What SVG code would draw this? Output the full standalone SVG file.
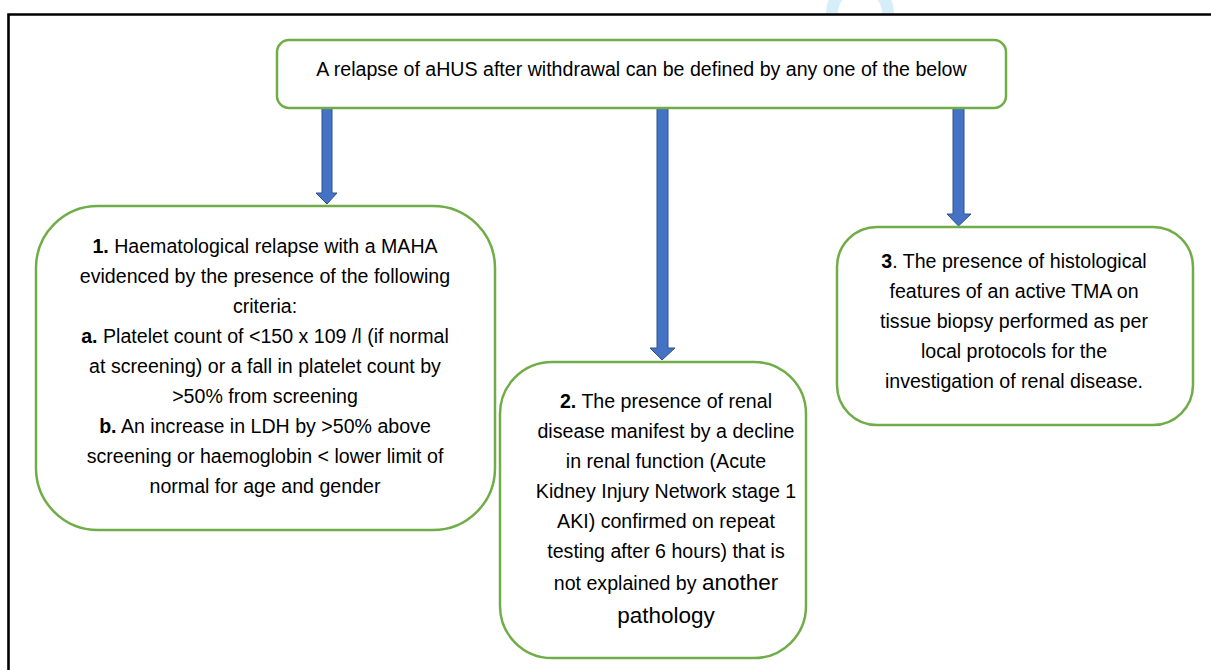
<svg xmlns="http://www.w3.org/2000/svg" width="1211" height="670" viewBox="0 0 1211 670">
<style>
.box{fill:#ffffff;stroke:#70AD47;stroke-width:2.5}
.t{font-family:"Liberation Sans",Arial,sans-serif;font-size:19.6px;fill:#000;text-anchor:middle}
.b{font-weight:bold}
.big{font-size:22.5px}
.arr{fill:#4472C4;stroke:#2F528F;stroke-width:1}
</style>
<rect width="1211" height="670" fill="#ffffff"/>
<path d="M826 13 A34 34 0 0 1 894 13 L882 13 A22 22 0 0 0 838 13 Z" fill="#d6eefa"/>
<path d="M8.5 670 V14.5 H1211" fill="none" stroke="#000" stroke-width="2.6"/>
<g id="connectors">
<path class="arr" d="M322 108 H332 V193 H337 L327 204 L316 193 H322 Z"/>
<path class="arr" d="M657 108 H668 V348 H675 L662 360 L650 348 H657 Z"/>
<path class="arr" d="M953 108 H964 V214 H971 L958.5 226 L947 214 H953 Z"/>
</g>
<g id="top">
<rect class="box" x="277" y="40" width="729" height="68" rx="12"/>
<text class="t" x="641.5" y="76">A relapse of aHUS after withdrawal can be defined by any one of the below</text>
</g>
<g id="node1">
<rect class="box" x="36" y="206" width="459" height="324" rx="62"/>
<text class="t" x="265" y="253"><tspan class="b">1.</tspan> Haematological relapse with a MAHA</text>
<text class="t" x="265" y="283">evidenced by the presence of the following</text>
<text class="t" x="265" y="313">criteria:</text>
<text class="t" x="265" y="343"><tspan class="b">a.</tspan> Platelet count of &lt;150 x 109 /l (if normal</text>
<text class="t" x="265" y="373">at screening) or a fall in platelet count by</text>
<text class="t" x="265" y="403">&gt;50% from screening</text>
<text class="t" x="265" y="433"><tspan class="b">b.</tspan> An increase in LDH by &gt;50% above</text>
<text class="t" x="265" y="463">screening or haemoglobin &lt; lower limit of</text>
<text class="t" x="265" y="493">normal for age and gender</text>
</g>
<g id="node2">
<rect class="box" x="500" y="362" width="306" height="296" rx="52"/>
<text class="t" x="666" y="408"><tspan class="b">2.</tspan> The presence of renal</text>
<text class="t" x="666" y="438">disease manifest by a decline</text>
<text class="t" x="666" y="468">in renal function (Acute</text>
<text class="t" x="666" y="498">Kidney Injury Network stage 1</text>
<text class="t" x="666" y="528">AKI) confirmed on repeat</text>
<text class="t" x="666" y="558">testing after 6 hours) that is</text>
<text class="t" x="666" y="590">not explained by <tspan class="big">another</tspan></text>
<text class="t big" x="666" y="623">pathology</text>
</g>
<g id="node3">
<rect class="box" x="837" y="227" width="356" height="198" rx="40"/>
<text class="t" x="1014" y="268"><tspan class="b">3</tspan>. The presence of histological</text>
<text class="t" x="1014" y="298">features of an active TMA on</text>
<text class="t" x="1014" y="328">tissue biopsy performed as per</text>
<text class="t" x="1014" y="358">local protocols for the</text>
<text class="t" x="1014" y="388">investigation of renal disease.</text>
</g>
</svg>
